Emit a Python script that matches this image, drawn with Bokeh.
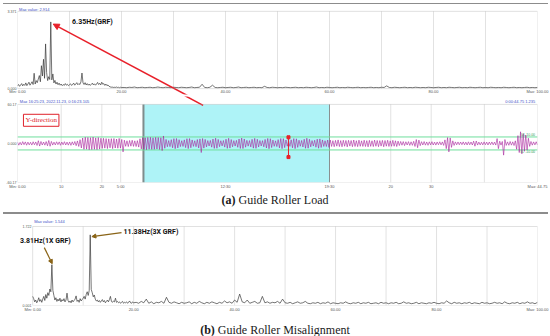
import numpy as np
from bokeh.plotting import figure
from bokeh.layouts import column
from bokeh.models import FixedTicker, Label, Arrow, NormalHead, BoxAnnotation, Div
from bokeh.embed import file_html
from bokeh.resources import INLINE

# ---------------- data ----------------
# (a) Guide Roller Load - spectrum (Hz vs amplitude)
spec_a_freq_low = np.round(np.arange(0, 20.001, 0.2), 2)
spec_a_low = [
    0.12, 0.18, 0.10, 0.16, 0.22, 0.12, 0.19, 0.14, 0.25, 0.13,
    0.20, 0.28, 0.15, 0.22, 0.30, 0.18, 0.67, 0.20, 0.35, 0.26,
    0.42, 0.57, 0.30, 1.00, 0.55, 1.28, 0.45, 1.95, 0.70, 0.35,
    0.52, 0.40, 2.91, 0.38, 0.64, 0.25, 0.36, 0.20, 0.28, 0.17,
    0.24, 0.15, 0.20, 0.13, 0.18, 0.14, 0.22, 0.15, 0.19, 0.13,
    0.17, 0.21, 0.14, 0.18, 0.24, 0.15, 0.20, 0.26, 0.17, 0.22,
    0.18, 0.30, 0.68, 0.25, 0.18, 0.26, 0.16, 0.22, 0.15, 0.20,
    0.14, 0.19, 0.24, 0.16, 0.21, 0.15, 0.20, 0.27, 0.18, 0.23,
    0.16, 0.28, 0.19, 0.22, 0.14, 0.20, 0.13, 0.16, 0.10, 0.08,
    0.06, 0.07, 0.05, 0.06, 0.05, 0.07, 0.05, 0.06, 0.04, 0.06,
    0.05,
]
spec_a_freq_high = np.arange(20.5, 100.001, 0.5)
spec_a_high = [
    0.05, 0.04, 0.06, 0.05, 0.07, 0.04, 0.05, 0.06, 0.04, 0.05,
    0.06, 0.04, 0.05, 0.07, 0.05, 0.04, 0.06, 0.05, 0.04, 0.06,
    0.05, 0.04, 0.06, 0.05, 0.04, 0.05, 0.07, 0.04, 0.05, 0.06,
    0.19, 0.05, 0.04, 0.06, 0.15, 0.05, 0.04, 0.05, 0.06, 0.04,
    0.05, 0.06, 0.04, 0.05, 0.07, 0.04, 0.05, 0.06, 0.04, 0.05,
    0.06, 0.04, 0.05, 0.04, 0.10, 0.05, 0.04, 0.06, 0.05, 0.04,
    0.05, 0.04, 0.06, 0.05, 0.04, 0.05, 0.06, 0.04, 0.05, 0.04,
    0.06, 0.05, 0.04, 0.05, 0.07, 0.04, 0.05, 0.04, 0.06, 0.05,
    0.04, 0.05, 0.06, 0.04, 0.05, 0.04, 0.06, 0.05, 0.04, 0.05,
    0.06, 0.04, 0.05, 0.04, 0.05, 0.06, 0.04, 0.05, 0.04, 0.06,
    0.05, 0.12, 0.05, 0.04, 0.06, 0.05, 0.04, 0.05, 0.06, 0.04,
    0.05, 0.04, 0.06, 0.05, 0.04, 0.05, 0.04, 0.06, 0.05, 0.04,
    0.05, 0.06, 0.04, 0.05, 0.04, 0.06, 0.05, 0.04, 0.05, 0.06,
    0.04, 0.05, 0.04, 0.06, 0.05, 0.04, 0.05, 0.06, 0.04, 0.05,
    0.04, 0.06, 0.05, 0.04, 0.05, 0.04, 0.06, 0.05, 0.04, 0.05,
    0.06, 0.04, 0.05, 0.04, 0.05, 0.06, 0.04, 0.05, 0.04, 0.05,
]

# (a) Guide Roller Load - Y-direction time signal (s vs load)
signal_y = [
    2.0, -2.6, 1.7, -2.3, 2.8, -1.9, 2.4, -2.7, 2.1, -2.2, 1.8, -2.5, 2.6, -2.0, 2.3, -3.1, 4.2, -4.0, 3.0, -2.4,
    2.2, -2.6, 2.9, -3.6, 4.6, -4.3, 3.1, -2.5, 2.0, -2.3, 2.6, -1.9, 2.4, -2.8, 2.2, -2.0, 2.7, -2.4, 2.1, -2.6,
    2.3, -2.9, 2.5, -2.2, 3.0, -3.4, 3.9, -4.6, 5.8, -7.0, 8.4, -9.0, 9.5, -8.8, 9.2, -9.6, 8.9, -9.3, 9.7, -9.0,
    8.6, -9.4, 9.1, -8.7, 8.0, -7.6, 7.9, -7.2, 7.5, -7.8, 7.1, -6.8, 7.4, -7.9, 7.6, -7.0, 6.8, -7.3, 7.7, -7.1,
    6.2, -13.0, 5.0, -4.4, 4.1, -4.8, 4.6, -4.2, 4.9, -4.5, 4.0, -4.7, 4.3, -5.6, 7.2, -8.4, 9.0, -9.3, 8.8, -9.5,
    9.2, -8.9, 9.4, -9.1, 8.7, -9.0, 9.3, -8.6, 9.1, -9.2, 8.8, -11.0, 11.5, -7.4, 6.2, -5.1, 4.4, -4.9, 5.8, -6.7,
    7.4, -8.0, 7.6, -6.9, 5.8, -4.8, 4.2, -4.6, 5.5, -6.4, 7.3, -7.9, 7.5, -6.6, 5.4, -4.5, 4.1, -5.0, 6.0, -6.9,
    7.0, -14.0, 7.6, -7.2, 6.3, -5.3, 4.4, -3.9, 4.6, -5.7, 6.8, -7.6, 8.1, -7.4, 6.2, -5.0, 4.2, -3.8, 4.5, -5.6,
    6.6, -7.5, 7.9, -7.1, 6.0, -5.1, 4.3, -4.0, 4.7, -5.9, 6.9, -7.7, 8.3, -7.8, 6.9, -5.8, 4.8, -4.1, 4.4, -5.3,
    6.4, -7.2, 7.8, -7.5, 6.5, -5.4, 4.5, -3.9, 4.3, -5.2, 6.2, -7.0, 7.7, -8.1, 7.3, -6.3, 5.2, -4.4, 4.0, -4.8,
    5.9, -6.8, 7.6, -8.0, 7.4, -6.4, 5.3, -4.2, 3.8, -4.5, 5.6, -6.7, 7.5, -7.9, 7.2, -6.0, 5.0, -4.3, 4.6, -5.5,
    6.5, -7.4, 8.0, -7.3, 6.4, -5.2, 4.4, -4.0, 4.9, -5.8, 6.6, -7.3, 7.0, -6.2, 5.4, -4.6, 4.1, -4.7, 5.3, -6.0,
    5.2, -4.6, 4.3, -5.0, 4.7, -4.2, 5.4, -4.8, 4.4, -5.1, 4.9, -4.3, 4.6, -5.2, 4.8, -4.1, 4.5, -5.0, 5.3, -4.6,
    4.2, -4.9, 5.1, -4.4, 4.0, -4.6, 5.0, -4.7, 4.3, -5.2, 4.8, -4.5, 4.1, -4.8, 5.2, -4.3, 4.6, -5.0, 4.4, -4.1,
    4.7, -5.1, 4.5, -4.2, 4.9, -4.6, 4.0, -4.4, 4.8, -4.3, 4.1, -4.7, 3.6, -3.2, 3.0, -2.7, 2.9, -3.3, 2.6, -2.4,
    2.8, -3.0, 2.5, -2.9, 3.3, -4.6, 6.0, -6.5, 5.2, -3.4, 2.7, -2.4, 2.9, -2.6, 2.3, -2.8, 2.5, -2.2, 2.7, -2.4,
    2.1, -2.5, 2.3, -2.0, 2.6, -2.2, 2.4, -3.0, 5.5, -8.0, 9.0, -13.0, 8.5, -6.0, 4.0, -3.0, 2.4, -2.1, 2.3, -2.0,
    2.2, -1.9, 2.4, -2.1, 2.0, -2.3, 2.5, -2.0, 2.2, -2.4, 3.5, -4.2, 3.8, -2.5, 2.1, -2.3, 1.9, -2.2, 2.4, -2.0,
    2.1, -2.4, 2.2, -1.9, 2.3, -2.1, 2.0, -2.5, 7.5, -8.0, 3.5, -2.5, 3.0, -18.0, 6.0, -3.0, 2.4, -2.8, 3.0, -2.6,
    2.5, -3.2, 4.0, -9.0, 12.0, -14.0, 18.0, -16.0, 15.0, -12.0, 13.0, -10.0, 8.0, -4.5, 3.0, -2.6, 2.4, -2.2, 2.6, -2.3,
]
signal_duration = 45.0
signal_t = np.linspace(0, signal_duration, len(signal_y))
selection_window = (10.9, 27.0)          # highlighted (cyan) interval, s
threshold = 10.0                          # green limit lines
cursor_t = [23.45]
cursor_lo, cursor_hi = [-21.0], [9.5]
time_grid = [3.78, 7.3, 8.93, 32.3, 35.8, 40.4]
time_ticks = [0, 3.78, 7.3, 8.93, 18.0, 27.0, 32.3, 35.8, 45.0]
time_tick_labels = ["Min: 0.00", "10", "20", "5:00", "12:30", "19:30", "20", "30", "Max: 44.75"]

# (b) Guide Roller Misalignment - spectrum
spec_b_freq_low = np.round(np.arange(0, 20.001, 0.2), 2)
spec_b_low = [
    0.20, 0.15, 0.08, 0.12, 0.06, 0.10, 0.17, 0.09, 0.13, 0.07,
    0.14, 0.20, 0.11, 0.24, 0.16, 0.28, 0.22, 0.36, 0.30, 0.89,
    0.33, 0.22, 0.12, 0.17, 0.09, 0.14, 0.10, 0.16, 0.08, 0.13,
    0.10, 0.15, 0.08, 0.12, 0.27, 0.11, 0.07, 0.10, 0.06, 0.12,
    0.08, 0.11, 0.14, 0.21, 0.09, 0.12, 0.07, 0.15, 0.10, 0.13,
    0.16, 0.20, 0.14, 0.24, 0.30, 0.22, 0.33, 1.54, 0.35, 0.28,
    0.19, 0.23, 0.14, 0.10, 0.12, 0.08, 0.11, 0.07, 0.10, 0.13,
    0.08, 0.11, 0.06, 0.09, 0.12, 0.08, 0.13, 0.20, 0.09, 0.07,
    0.10, 0.08, 0.16, 0.07, 0.09, 0.06, 0.08, 0.05, 0.07, 0.09,
    0.05, 0.07, 0.06, 0.08, 0.05, 0.07, 0.10, 0.06, 0.05, 0.08,
    0.06,
]
spec_b_freq_high = np.arange(20.5, 100.001, 0.5)
spec_b_high = [
    0.07, 0.05, 0.09, 0.06, 0.14, 0.05, 0.08, 0.04, 0.07, 0.06,
    0.09, 0.05, 0.18, 0.07, 0.05, 0.08, 0.06, 0.04, 0.07, 0.05,
    0.06, 0.08, 0.04, 0.07, 0.05, 0.09, 0.06, 0.04, 0.07, 0.05,
    0.08, 0.06, 0.04, 0.07, 0.05, 0.10, 0.06, 0.08, 0.05, 0.12,
    0.07, 0.25, 0.08, 0.06, 0.12, 0.05, 0.07, 0.09, 0.05, 0.06,
    0.20, 0.06, 0.08, 0.05, 0.07, 0.06, 0.09, 0.05, 0.14, 0.06,
    0.05, 0.07, 0.04, 0.06, 0.08, 0.05, 0.06, 0.09, 0.05, 0.04,
    0.06, 0.05, 0.07, 0.04, 0.06, 0.05, 0.08, 0.04, 0.06, 0.05,
    0.04, 0.06, 0.05, 0.08, 0.05, 0.04, 0.06, 0.05, 0.07, 0.04,
    0.06, 0.05, 0.07, 0.04, 0.05, 0.06, 0.04, 0.07, 0.05, 0.06,
    0.04, 0.06, 0.05, 0.07, 0.04, 0.05, 0.08, 0.05, 0.06, 0.04,
    0.05, 0.07, 0.04, 0.06, 0.05, 0.04, 0.06, 0.05, 0.07, 0.05,
    0.04, 0.06, 0.05, 0.10, 0.06, 0.04, 0.07, 0.05, 0.06, 0.04,
    0.06, 0.05, 0.07, 0.04, 0.06, 0.05, 0.04, 0.07, 0.05, 0.06,
    0.04, 0.05, 0.07, 0.05, 0.06, 0.04, 0.08, 0.05, 0.04, 0.06,
    0.05, 0.07, 0.04, 0.06, 0.05, 0.08, 0.05, 0.06, 0.04, 0.07,
]

freq_ticks = [0, 20, 40, 60, 80, 100]
freq_tick_labels = ["Min: 0.00", "20.00", "40.00", "60.00", "80.00", "Max: 100.00"]
freq_grid = [10, 20, 30, 40, 50, 60, 70, 80, 90]

# ---------------- styling helpers ----------------
W = 550
AX_FONT = "Liberation Sans"
TICK_FS = "4px"
BOX = "#9a9a9a"
GRID = "#e2e2e2"
ANN_FONT = "Roboto"
RED = "#e8202a"


def style(p):
    for ax in (p.xaxis[0], p.yaxis[0]):
        ax.axis_line_color = None
        ax.major_tick_line_color = None
        ax.minor_tick_line_color = None
        ax.major_tick_in = 0
        ax.major_tick_out = 0
        ax.major_label_text_font_size = TICK_FS
        ax.major_label_text_font = AX_FONT
        ax.major_label_text_color = "#555555"
        ax.major_label_standoff = 1
    p.yaxis.major_label_text_font_size = "3.6px"
    p.xgrid.grid_line_color = None
    p.ygrid.grid_line_color = None
    p.outline_line_color = None
    p.background_fill_color = "white"
    p.border_fill_color = "white"


def plot_box(p, left, right, bottom, top):
    p.add_layout(BoxAnnotation(left=left, right=right, bottom=bottom, top=top,
                               fill_color=None, line_color=BOX, line_width=1, level="overlay"))


def header(p, x, y, text, align="left"):
    p.add_layout(Label(x=x, y=y, text=text, text_font=AX_FONT, text_font_size="4px",
                       text_color="#3d50c8", text_align=align, text_baseline="middle"))


def freq_axis(p, y0, y1):
    p.xaxis.ticker = FixedTicker(ticks=freq_ticks)
    p.xaxis.major_label_overrides = dict(zip(freq_ticks, freq_tick_labels))
    p.segment(x0=freq_grid, y0=[y0] * len(freq_grid), x1=freq_grid, y1=[y1] * len(freq_grid),
              line_color=GRID, line_width=1)


top_rule = Div(text="", width=545, height=1, margin=(3, 0, 0, 3), styles={"background-color": "#8c8c8c"})

# ---------------- (a) spectrum ----------------
ymax_a = 3.371
k1 = ymax_a / 79.0
p1 = figure(width=W, height=92, x_range=(0, 100), y_range=(-6 * k1, ymax_a + 7 * k1),
            output_backend="svg", toolbar_location=None,
            min_border_left=17, min_border_right=9, min_border_top=0, min_border_bottom=0)
style(p1)
freq_axis(p1, 0, ymax_a)
p1.xaxis.major_label_standoff = -6
p1.yaxis.ticker = FixedTicker(ticks=[0, ymax_a])
p1.yaxis.major_label_overrides = {0: "0.000", ymax_a: "3.371"}
plot_box(p1, 0, 100, 0, ymax_a)
p1.line(list(spec_a_freq_low) + list(spec_a_freq_high), spec_a_low + spec_a_high,
        line_color="#3a3a3a", line_width=0.7)
header(p1, 0.3, ymax_a + 2 * k1, "Max value: 2.914")
p1.add_layout(Label(x=10.5, y=2.9, text="6.35Hz(GRF)", text_font=ANN_FONT,
                    text_font_style="bold", text_font_size="7px", text_color="#111111",
                    text_baseline="middle"))
p1.add_layout(Arrow(end=NormalHead(size=6, fill_color=RED, line_color=RED),
                    x_start=32.65, y_start=-0.30, x_end=6.87, y_end=2.816,
                    line_color=RED, line_width=1.5))

# ---------------- (a) time signal ----------------
ylim = 60.17
k2 = 2 * ylim / 79.0
p2 = figure(width=W, height=95, x_range=(0, signal_duration), y_range=(-ylim, ylim + 8 * k2),
            output_backend="svg", toolbar_location=None,
            min_border_left=16, min_border_right=10, min_border_top=0, min_border_bottom=8)
style(p2)
p2.xaxis.ticker = FixedTicker(ticks=time_ticks)
p2.xaxis.major_label_overrides = dict(zip(time_ticks, time_tick_labels))
p2.yaxis.ticker = FixedTicker(ticks=[-ylim, 0, ylim])
p2.yaxis.major_label_overrides = {-ylim: "-60.17", 0: "0.000", ylim: "60.17"}
p2.add_layout(BoxAnnotation(left=selection_window[0], right=selection_window[1], bottom=-ylim, top=ylim,
                            fill_color="#aef3f7", fill_alpha=1.0, line_color=None, level="underlay"))
p2.segment(x0=time_grid, y0=[-ylim] * len(time_grid), x1=time_grid, y1=[ylim] * len(time_grid),
           line_color=GRID, line_width=1)
p2.segment(x0=[selection_window[0]], y0=[-ylim], x1=[selection_window[0]], y1=[ylim],
           line_color="#7f8c8c", line_width=2)
p2.segment(x0=[selection_window[1]], y0=[-ylim], x1=[selection_window[1]], y1=[ylim],
           line_color="#8a9090", line_width=1)
p2.segment(x0=[0, 0], y0=[threshold, -threshold], x1=[signal_duration] * 2, y1=[threshold, -threshold],
           line_color="#6fdf9c", line_width=1)
p2.line(signal_t, signal_y, line_color="#a8229c", line_width=0.6)
p2.segment(x0=cursor_t, y0=cursor_lo, x1=cursor_t, y1=cursor_hi, line_color=RED, line_width=1)
p2.scatter(cursor_t * 2, cursor_lo + cursor_hi, marker="square", size=3, color=RED)
plot_box(p2, 0, signal_duration, -ylim, ylim)
header(p2, 0.2, ylim + 3 * k2, "Max 16:25:23, 2022.11.23, 0:16:23.105")
header(p2, 44.9, ylim + 3 * k2, "0:00:44.75  1.235", align="right")
p2.add_layout(Label(x=44.8, y=threshold, text="UL 10.00", text_font=AX_FONT, text_font_size="3.5px",
                    text_color="#2f9c5a", text_align="right", text_baseline="bottom"))
p2.add_layout(Label(x=44.8, y=-threshold, text="LL -10.00", text_font=AX_FONT, text_font_size="3.5px",
                    text_color="#2f9c5a", text_align="right", text_baseline="top"))
p2.add_layout(Label(x=2.05, y=35.7, text="Y-direction", text_font="Liberation Serif",
                    text_font_size="7px", text_color="#e0202a", text_align="center",
                    text_baseline="middle", border_line_color="#e0202a", border_line_width=1,
                    background_fill_color="white", padding=2))
p2.add_layout(Arrow(end=None, x_start=14.47, y_start=ylim + 9 * k2, x_end=16.06, y_end=ylim - 1 * k2,
                    line_color=RED, line_width=1.5))

cap_style = {"font-family": "'Liberation Serif', serif", "font-size": "12px",
             "text-align": "center", "color": "#1a1a1a"}
cap_a = Div(text="<b>(a)</b> Guide Roller Load", width=W, height=21, margin=0,
            styles=dict(cap_style, **{"line-height": "19px"}))
sep = Div(text="", width=545, height=2, margin=(0, 0, 0, 3), styles={"background-color": "#8c8c8c"})

# ---------------- (b) spectrum ----------------
ymin_b, ymax_b = 0.001, 1.722
k3 = (ymax_b - ymin_b) / 79.0
kx3 = (537 - 28.3) / 100.0
p3 = figure(width=W, height=104, x_range=(-(28.3 - 13) / kx3, 100), y_range=(ymin_b, ymax_b + 12 * k3),
            output_backend="svg", toolbar_location=None,
            min_border_left=13, min_border_right=13, min_border_top=0, min_border_bottom=13)
style(p3)
freq_axis(p3, ymin_b, ymax_b)
p3.yaxis.major_label_standoff = -14
p3.yaxis.ticker = FixedTicker(ticks=[ymin_b, ymax_b])
p3.yaxis.major_label_overrides = {ymin_b: "0.001", ymax_b: "1.722"}
plot_box(p3, 0, 100, ymin_b, ymax_b)
p3.line(list(spec_b_freq_low) + list(spec_b_freq_high), spec_b_low + spec_b_high,
        line_color="#3a3a3a", line_width=0.7)
header(p3, 0.3, ymax_b + 5 * k3, "Max value: 1.544")
brown = "#8a6417"
p3.add_layout(Label(x=2.5, y=1.415, text="3.81Hz(1X GRF)", text_font=ANN_FONT,
                    text_font_style="bold", text_font_size="7px", text_color="#111111",
                    text_align="center", text_baseline="middle"))
p3.add_layout(Arrow(end=NormalHead(size=4, fill_color=brown, line_color=brown),
                    x_start=2.3, y_start=1.262, x_end=3.87, y_end=0.912,
                    line_color=brown, line_width=1.2))
p3.add_layout(Label(x=18.0, y=1.612, text="11.38Hz(3X GRF)", text_font=ANN_FONT,
                    text_font_style="bold", text_font_size="7px", text_color="#111111",
                    text_align="left", text_baseline="middle"))
p3.add_layout(Arrow(end=NormalHead(size=4, fill_color=brown, line_color=brown),
                    x_start=17.6, y_start=1.59, x_end=11.73, y_end=1.502,
                    line_color=brown, line_width=1.2))

cap_b = Div(text="<b>(b)</b> Guide Roller Misalignment", width=W, height=17, margin=0,
            styles=dict(cap_style, **{"line-height": "25px"}))

layout = column(top_rule, p1, p2, cap_a, sep, p3, cap_b, spacing=0)
open("out.html", "w").write(file_html(layout, INLINE))
